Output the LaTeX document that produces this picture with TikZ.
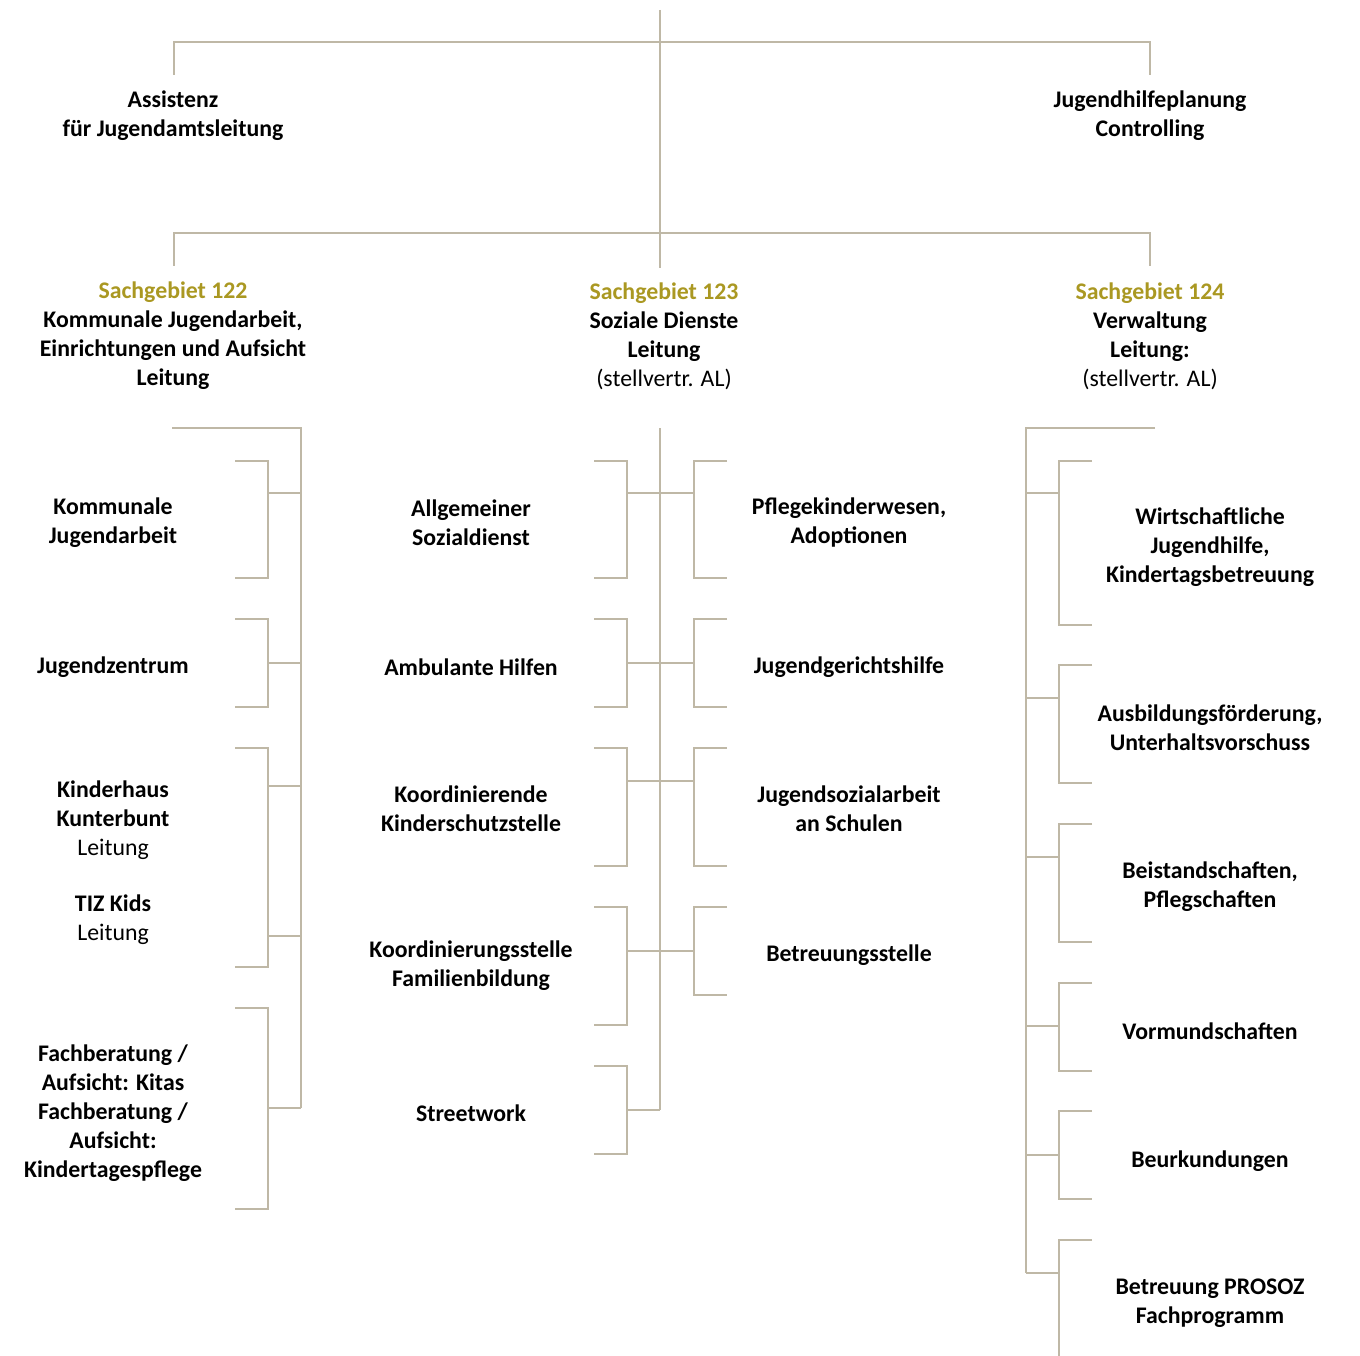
\documentclass[tikz,border=0pt]{standalone}
\usepackage{fontspec}
\setmainfont{Carlito}
\definecolor{orglinie}{RGB}{191,184,166}
\definecolor{sgold}{RGB}{170,152,34}

\begin{document}
\begin{tikzpicture}
  [x=1pt,y=-1pt,
   linie/.style={draw=orglinie,line width=2.6pt},
   every node/.style={align=center,inner sep=0pt,font=\fontsize{23.8}{29}\selectfont\bfseries}]
  \useasboundingbox (0,0) rectangle (1360,1356);

  % Leitungsebene
  \coordinate (wurzel) at (660,10);
  \coordinate (sg123top) at (660,268);
  \draw[linie] (wurzel) -- (sg123top);
  \draw[linie] (174,75) |- (1150,42) -- (1150,75);
  \draw[linie] (174,266) |- (1150,233) -- (1150,266);

  \node (assist) at (173,116) {Assistenz\\für Jugendamtsleitung};
  \node (jhp) at (1150,116) {Jugendhilfeplanung\\Controlling};

  \node (sg122) at (173,336) {\textcolor{sgold}{Sachgebiet 122}\\Kommunale Jugendarbeit,\\Einrichtungen und Aufsicht\\Leitung};
  \node (sg123) at (664,336) {\textcolor{sgold}{Sachgebiet 123}\\Soziale Dienste\\Leitung\\{\mdseries (stellvertr. AL)}};
  \node (sg124) at (1150,336) {\textcolor{sgold}{Sachgebiet 124}\\Verwaltung\\Leitung:\\{\mdseries (stellvertr. AL)}};

  % Sachgebiet 122
  \draw[linie] (172,428) -| (301,1108);
  \foreach \o/\u in {461/578,619/707,748/967,1008/1209}
    \draw[linie] (235,\o) -| (268,\u) -- (235,\u);
  \foreach \m in {493,663,786,936,1108}
    \draw[linie] (268,\m) -- (301,\m);

  \node (kja) at (113,523) {Kommunale\\Jugendarbeit};
  \node (jz) at (113,667) {Jugendzentrum};
  \node (kh) at (113,820) {Kinderhaus\\Kunterbunt\\{\mdseries Leitung}};
  \node (tiz) at (113,920) {TIZ Kids\\{\mdseries Leitung}};
  \node (fb) at (113,1113) {Fachberatung /\\Aufsicht: Kitas\\Fachberatung /\\Aufsicht:\\Kindertagespflege};

  % Sachgebiet 123
  \draw[linie] (660,428) -- (660,1110);
  \foreach \o/\u/\m in {461/578/493,619/707/663,748/866/781,907/1025/951,1066/1154/1110}{
    \draw[linie] (594,\o) -| (627,\u) -- (594,\u);
    \draw[linie] (627,\m) -- (660,\m);
  }
  \foreach \o/\u/\m in {461/578/493,619/707/663,748/866/781,907/995/951}{
    \draw[linie] (727,\o) -| (694,\u) -- (727,\u);
    \draw[linie] (660,\m) -- (694,\m);
  }

  \node (asd) at (471,523) {Allgemeiner\\Sozialdienst};
  \node (amb) at (471,667) {Ambulante Hilfen};
  \node (kks) at (471,809) {Koordinierende\\Kinderschutzstelle};
  \node (kfb) at (471,966) {Koordinierungsstelle\\Familienbildung};
  \node (sw) at (471,1113) {Streetwork};

  \node (pkw) at (849,523) {Pflegekinderwesen,\\Adoptionen};
  \node (jgh) at (849,667) {Jugendgerichtshilfe};
  \node (jsa) at (849,809) {Jugendsozialarbeit\\an Schulen};
  \node (bst) at (849,955) {Betreuungsstelle};

  % Sachgebiet 124
  \draw[linie] (1155,428) -| (1026,1273);
  \foreach \o/\u/\m in {461/625/493,665/783/698,824/942/857,983/1071/1026,1111/1199/1155}{
    \draw[linie] (1092,\o) -| (1059,\u) -- (1092,\u);
    \draw[linie] (1026,\m) -- (1059,\m);
  }
  \draw[linie] (1092,1240) -| (1059,1356);
  \draw[linie] (1026,1273) -- (1059,1273);

  \node (wjh) at (1210,547) {Wirtschaftliche\\Jugendhilfe,\\Kindertagsbetreuung};
  \node (afo) at (1210,728) {Ausbildungsförderung,\\Unterhaltsvorschuss};
  \node (bsp) at (1210,887) {Beistandschaften,\\Pflegschaften};
  \node (vmd) at (1210,1031) {Vormundschaften};
  \node (bku) at (1210,1161) {Beurkundungen};
  \node (pro) at (1210,1303) {Betreuung PROSOZ\\Fachprogramm};

\end{tikzpicture}
\end{document}
